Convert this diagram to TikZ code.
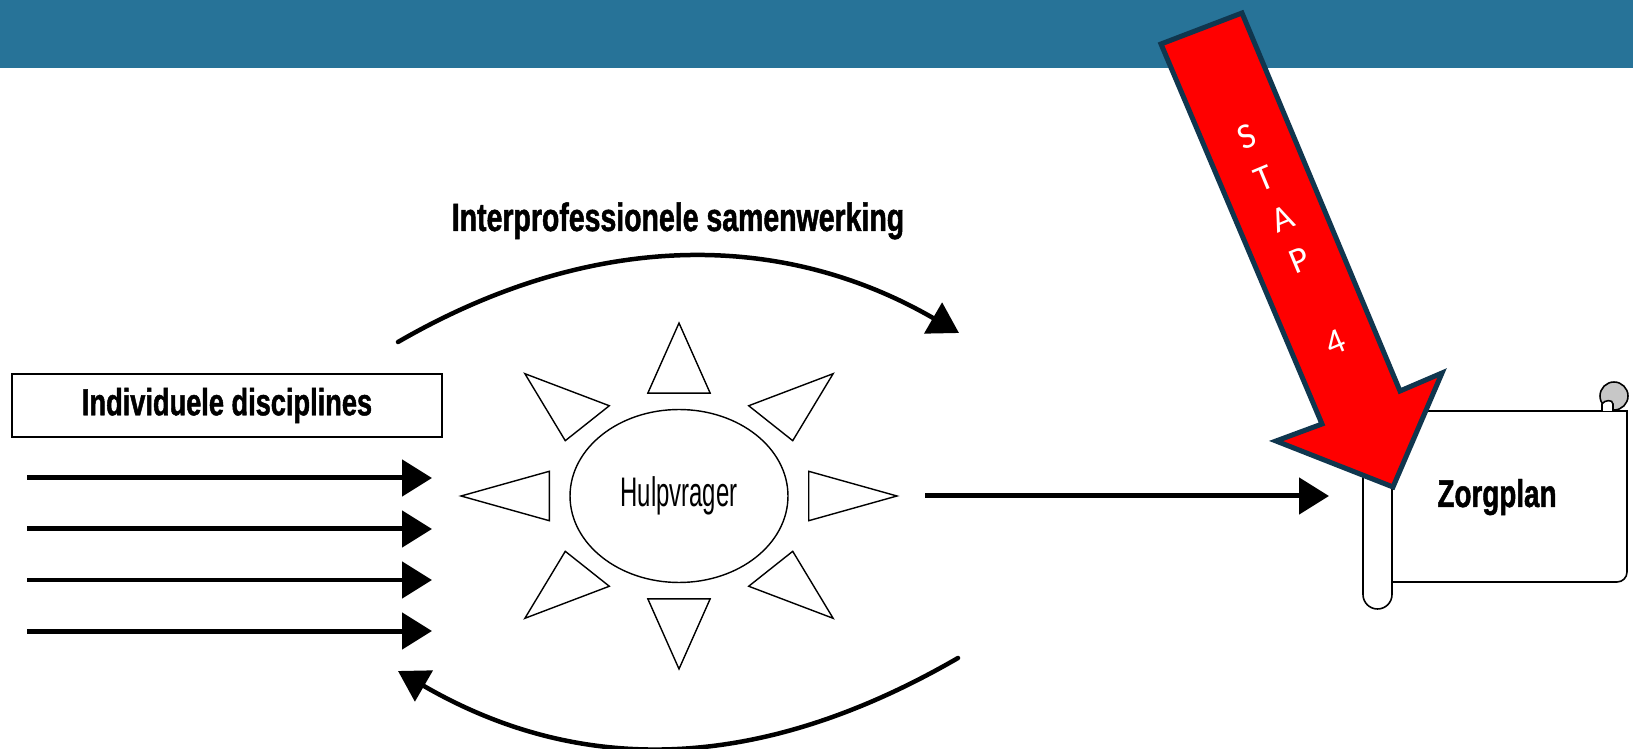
\documentclass[tikz,border=0pt]{standalone}
\usepackage{fontspec}
\usetikzlibrary{arrows.meta,shapes.geometric}

\newfontfamily\condbf[FakeStretch=0.72,FakeBold=1.2]{Liberation Sans}
\newfontfamily\condlt[FakeStretch=0.58]{Liberation Sans}
\newfontfamily\stapfont{Carlito}

\definecolor{barblue}{RGB}{39,115,152}
\definecolor{stapred}{RGB}{255,0,0}
\definecolor{stapedge}{RGB}{16,54,78}

\begin{document}
\begin{tikzpicture}[x=0.02cm,y=-0.02cm,
  flow/.style={line width=0.1cm,-{Triangle[length=0.6cm,width=0.72cm]}},
  cycle arc/.style={line width=0.09cm,line cap=round,-{Triangle[length=0.6cm,width=0.7cm]}},
  ray/.style={draw,line width=0.8pt,line join=miter},
  title text/.style={font=\condbf\bfseries\fontsize{21}{24}\selectfont,anchor=base,inner sep=0pt},
  scroll line/.style={line width=0.9pt},
  stap letter/.style={text=white,font=\stapfont\fontsize{20.5}{24}\selectfont,rotate=22.6,inner sep=0pt}]

\useasboundingbox (0,0) rectangle (1633,749);

% Header bar
\fill[barblue] (0,0) rectangle (1633,68);

% Individual disciplines
\node[draw,line width=1pt,minimum width=8.6cm,minimum height=1.26cm,inner sep=0pt,
  font=\condbf\bfseries\fontsize{21.5}{24}\selectfont] (indiv) at (227,405.5) {Individuele disciplines};
\foreach \y [count=\i] in {478,529,580,631} {
  \coordinate (from\i) at (27,\y);
  \coordinate (to\i) at (432,\y);
  \draw[flow] (from\i) -- (to\i);
}

% Interprofessional cycle
\node[title text,font=\condbf\bfseries\fontsize{22.5}{26}\selectfont] (interprof) at (678,231) {Interprofessionele samenwerking};
\coordinate (topstart) at (398,342);
\coordinate (topend) at (959,333);
\draw[cycle arc] (topstart) .. controls (583,235) and (774,226) .. (topend);
\coordinate (botstart) at (958,658);
\coordinate (botend) at (398,671);
\draw[cycle arc] (botstart) .. controls (768,768) and (588,781) .. (botend);

% Sun
\node[draw,ellipse,line width=0.8pt,minimum width=4.36cm,minimum height=3.46cm,inner sep=0pt,
  font=\condlt\fontsize{23.5}{26}\selectfont] (hulp) at (679,496) {Hulpvrager};
\begin{scope}[shift={(679,496)},x=2.18cm,y=1.73cm]
  \foreach \a in {0,45,...,315}
    \draw[ray] (\a:2) -- (\a+13.5:1.224) -- (\a-13.5:1.224) -- cycle;
\end{scope}

% Sun to care plan
\coordinate (sunout) at (925,496);
\coordinate (planin) at (1329,496);
\draw[flow] (sunout) -- (planin);

% Scroll
\draw[scroll line] (1392,411) -- (1627,411) [rounded corners=0.2cm] -- (1627,582) -- (1392,582);
\draw[scroll line,fill=white,rounded corners=0.29cm] (1363,400) rectangle (1392,609);
\draw[scroll line,fill=black!22] (1614,396) circle (14);
\draw[scroll line,fill=white] (1602,411) -- (1602,404) .. controls (1604,400) and (1613,399) .. (1613,404) -- (1613,411);
\node[title text,font=\condbf\bfseries\fontsize{22}{24}\selectfont] (zorg) at (1497,507) {Zorgplan};

% Stap 4 arrow
\draw[line width=0.1cm,draw=stapedge,fill=stapred,line join=miter]
  (1161,44) -- (1242,13) -- (1400,391) -- (1442,373) -- (1393,487) -- (1276,441) -- (1322,424) -- cycle;
\foreach \ch/\k in {S/0,T/1,A/2,P/3,4/5}
  \node[stap letter] (stap\k) at ({1247+17.6*\k},{137+41*\k}) {\ch};

\end{tikzpicture}
\end{document}
